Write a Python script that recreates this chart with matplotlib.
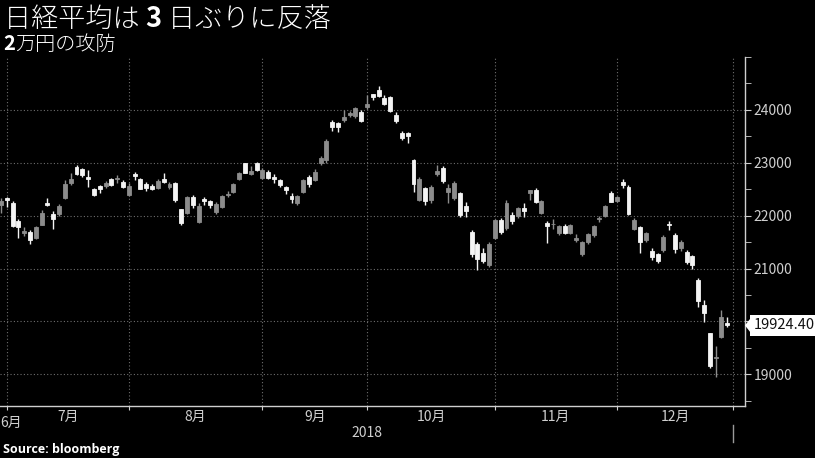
import numpy as np
import pandas as pd
import matplotlib
matplotlib.use('Agg')
import matplotlib.pyplot as plt
import matplotlib.transforms as mtrans
from matplotlib.patches import Polygon
from matplotlib.ticker import MultipleLocator

plt.rcParams['font.family'] = ['Noto Sans CJK JP', 'DejaVu Sans']

# trading days (TSE holidays removed)
holidays = ['2018-07-16', '2018-09-17', '2018-09-24', '2018-10-08', '2018-11-23', '2018-12-24']
dates = pd.bdate_range('2018-06-28', '2018-12-28', freq='C', holidays=holidays)

opens = [22200, 22340,
         22240, 21900, 21670, 21700, 21580, 21830, 22230, 22040, 22030, 22330, 22620,
         22920, 22880, 22740, 22500, 22560, 22560, 22700, 22690, 22640, 22400,
         22780, 22700, 22600, 22560, 22520, 22700, 22540, 22620, 22120, 22050, 22350, 21880,
         22320, 22270, 22070, 22170, 22390, 22440, 22690, 22990, 22780, 22990, 22720,
         22830, 22730, 22680, 22540, 22370, 22240, 22440, 22730, 22680, 22990, 23050, 23770,
         23760, 23800, 23900, 23880, 23960, 24060,
         24300, 24380, 24230, 24250, 23900, 23560, 23560, 23050, 22300, 22520, 22290, 22790,
         22900, 22450, 22330, 22420, 22180, 21700, 21460, 21300, 21060, 21580,
         21920, 21770, 22020, 21990, 22140, 22430, 22480, 22050, 21870, 21840, 21680, 21810,
         21680, 21540, 21270, 21500, 21640, 21940, 22000, 22430, 22270,
         22640, 22540, 21740, 21780, 21540, 21330, 21270, 21350, 21840, 21640, 21380, 21310,
         21230, 20780, 20310, 19780, 19300, 19706, 19970]
highs = [22330, 22350,
         22270, 21930, 21790, 21720, 21800, 22110, 22340, 22080, 22220, 22680, 22800,
         22950, 22900, 22860, 22530, 22580, 22660, 22720, 22770, 22680, 22620,
         22820, 22720, 22630, 22600, 22700, 22800, 22640, 22640, 22130, 22380, 22400, 22230,
         22350, 22300, 22260, 22400, 22470, 22620, 22820, 23000, 22930, 23010, 22900,
         22860, 22790, 22700, 22570, 22420, 22400, 22700, 22760, 22880, 23120, 23450, 23810,
         23780, 24000, 23980, 24060, 23990, 24290,
         24310, 24448, 24280, 24260, 23960, 23600, 23590, 23070, 22730, 22550, 22580, 22960,
         22930, 22600, 22650, 22440, 22260, 21720, 21500, 21380, 21500, 21930,
         21950, 22290, 22060, 22160, 22240, 22490, 22520, 22290, 21900, 21940, 21820, 21850,
         21850, 21650, 21520, 21680, 21830, 21990, 22200, 22460, 22370,
         22700, 22580, 21950, 21800, 21700, 21380, 21300, 21640, 21890, 21680, 21540, 21350,
         21260, 20820, 20400, 19790, 19530, 20211, 20080]
lows = [22050, 22170,
        21790, 21580, 21620, 21462, 21550, 21820, 22180, 21750, 22000, 22320, 22580,
        22760, 22730, 22540, 22370, 22430, 22520, 22560, 22620, 22530, 22370,
        22680, 22500, 22470, 22490, 22500, 22620, 22500, 22250, 21830, 22030, 22150, 21860,
        22200, 22140, 22040, 22150, 22350, 22430, 22670, 22800, 22760, 22850, 22690,
        22690, 22620, 22550, 22410, 22240, 22200, 22420, 22540, 22650, 22960, 23000, 23600,
        23580, 23770, 23860, 23840, 23780, 24010,
        24180, 24240, 24100, 23960, 23750, 23440, 23380, 22450, 22270, 22200, 22240, 22750,
        22620, 22240, 22300, 21980, 21980, 21220, 20970, 21110, 21020, 21550,
        21660, 21720, 21850, 21960, 21980, 22300, 22230, 22030, 21480, 21750, 21640, 21650,
        21660, 21500, 21240, 21470, 21600, 21880, 21980, 22250, 22260,
        22530, 22020, 21720, 21290, 21500, 21160, 21100, 21320, 21720, 21300, 21330, 21090,
        21000, 20270, 19990, 19120, 18949, 19690, 19900]
closes = [22270, 22305,
          21812, 21786, 21717, 21547, 21788, 22052, 22197, 21932, 22188, 22597, 22698,
          22794, 22765, 22697, 22397, 22510, 22614, 22587, 22713, 22545, 22554,
          22747, 22513, 22525, 22507, 22663, 22644, 22598, 22298, 21857, 22356, 22204, 22192,
          22270, 22199, 22220, 22363, 22411, 22602, 22800, 22813, 22848, 22870, 22865,
          22707, 22697, 22581, 22488, 22307, 22373, 22665, 22605, 22821, 23095, 23421, 23673,
          23675, 23870, 23940, 24034, 23797, 24120,
          24246, 24271, 24111, 23976, 23784, 23469, 23506, 22591, 22695, 22271, 22549, 22841,
          22658, 22532, 22615, 22011, 22091, 21269, 21185, 21150, 21457, 21920,
          21688, 22244, 21899, 22148, 22086, 22487, 22250, 22270, 21811, 21846, 21804, 21680,
          21821, 21583, 21508, 21647, 21812, 21952, 22177, 22263, 22351,
          22575, 22036, 21919, 21502, 21679, 21220, 21148, 21603, 21816, 21375, 21507, 21115,
          21061, 20393, 20166, 19156, 19327, 20078, 19924.40]

title_parts = [('日経平均は ', 'light'), ('3', 'bold'), (' 日ぶりに反落', 'light')]
subtitle_parts = [('2', 'bold'), ('万円の攻防', 'light')]
source = 'Source: bloomberg'
year_label = '2018'

up_col = '#8c8c8c'
down_col = '#f4f4f4'
axis_col = '#cfcfcf'
grid_col = '#6e6e6e'

fig = plt.figure(figsize=(8.15, 4.58), dpi=100, facecolor='black')
ax = fig.add_axes([0, 0.1135, 0.9141, 0.762])
ax.set_facecolor('black')

x = np.arange(len(dates))
o = np.array(opens, float)
h = np.array(highs, float)
l = np.array(lows, float)
c = np.array(closes, float)
cols = np.where(c >= o, up_col, down_col)

ax.vlines(x, l, h, colors=cols, lw=1, zorder=3)
ax.bar(x, np.abs(c - o), bottom=np.minimum(o, c), width=0.68,
       color=cols, edgecolor=cols, linewidth=0.6, zorder=4)

ax.set_xlim(-0.17, 128.05)
ax.set_ylim(18400, 25000)

# month boundaries: last trading day of each month, plus end slot
months = dates.to_period('M')
first_idx = [i for i in range(1, len(dates)) if months[i] != months[i - 1]]
bounds = [i - 1 for i in first_idx] + [len(dates)]
mids = [(bounds[k] + bounds[k + 1]) / 2 for k in range(len(bounds) - 1)]
mlabels = ['%d月' % p.month for p in months[first_idx].unique()]

ax.set_xticks(bounds)
ax.set_xticklabels([''] * len(bounds))
ax.set_xticks(mids, minor=True)
ax.set_xticklabels(mlabels, minor=True)
ax.tick_params(axis='x', which='major', length=3, color=axis_col, direction='out')
ax.tick_params(axis='x', which='minor', length=0, labelsize=10, labelcolor=axis_col, pad=3)
ax.text(-0.17, -0.028, '%d月' % months[0].month, transform=ax.get_xaxis_transform(),
        ha='left', va='top', fontsize=10, color=axis_col)

ax.yaxis.tick_right()
ax.set_yticks(np.arange(19000, 25000, 1000))
ax.yaxis.set_minor_locator(MultipleLocator(500))
ax.tick_params(axis='y', which='both', length=4, color=axis_col, labelsize=10,
               labelcolor=axis_col, pad=2)

ax.grid(True, which='major', color=grid_col, linestyle=(0, (1, 2)), lw=0.8)
ax.set_axisbelow(True)

for s in ['top', 'left']:
    ax.spines[s].set_visible(False)
for s in ['right', 'bottom']:
    ax.spines[s].set_color(axis_col)
    ax.spines[s].set_linewidth(1)

# year divider and label
xt = ax.get_xaxis_transform()
ax.plot([bounds[-1], bounds[-1]], [-0.054, -0.103], transform=xt, clip_on=False,
        color='#9a9a9a', lw=1)
ax.text((ax.get_xlim()[0] + bounds[-1]) / 2, -0.076, year_label, transform=xt,
        ha='center', va='center', fontsize=10, color=axis_col)

# last value marker
last = closes[-1]
px, py = ax.get_yaxis_transform().transform((1, last))
tri = Polygon([[px, py], [px + 7, py + 9], [px + 7, py - 9]], closed=True,
              transform=mtrans.IdentityTransform(), fc='white', ec='none',
              clip_on=False, zorder=10)
ax.add_patch(tri)
ax.annotate('%.2f' % last, xy=(1, last), xycoords=('axes fraction', 'data'),
            xytext=(6.5, 0), textcoords='offset points', ha='left', va='center',
            fontsize=10.5, color='#111111', annotation_clip=False, zorder=11,
            bbox=dict(boxstyle='square,pad=0.25', fc='white', ec='none'))

# titles
renderer = fig.canvas.get_renderer()


def draw_parts(parts, x0, y, size):
    xx = x0
    for s, w in parts:
        t = fig.text(xx, y, s, fontsize=size, fontweight=w, color='white', va='baseline')
        xx += t.get_window_extent(renderer=renderer).width / fig.bbox.width


draw_parts(title_parts, 4 / 815, 1 - 27 / 458, 19.5)
draw_parts(subtitle_parts, 3 / 815, 1 - 49.5 / 458, 14.5)
fig.text(3 / 815, 1 - 453 / 458, source, fontsize=9, fontweight='bold',
         color='white', family=['Open Sans', 'DejaVu Sans'], va='baseline')

fig.savefig('out.png', dpi=100, facecolor='black')
